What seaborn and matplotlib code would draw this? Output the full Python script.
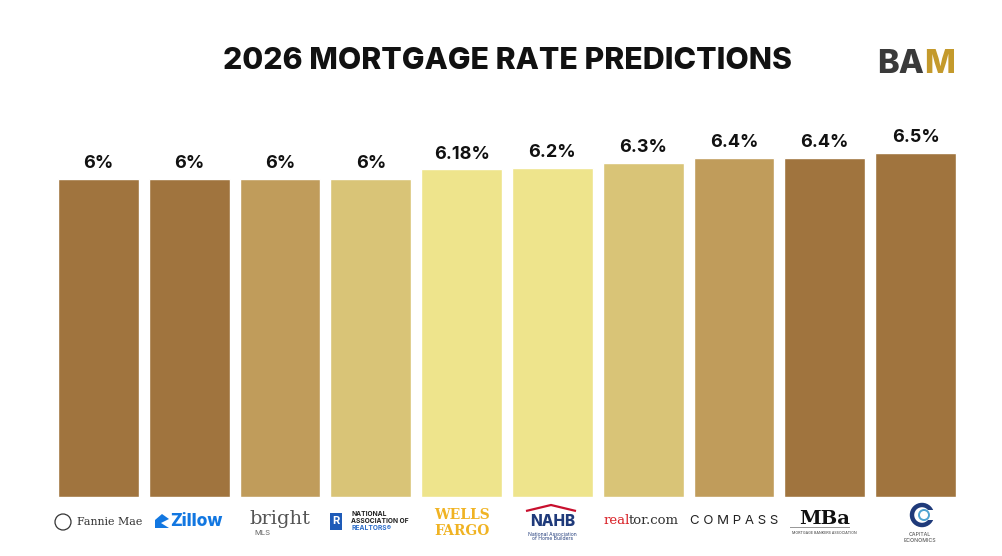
import matplotlib
matplotlib.use("Agg")
import matplotlib.pyplot as plt
import matplotlib.transforms as mtransforms
from matplotlib.patches import Ellipse, Rectangle, Polygon
import seaborn as sns
import pandas as pd

# data
lenders = ["Fannie Mae", "Zillow", "Bright MLS", "NAR", "Wells Fargo",
           "NAHB", "Realtor.com", "Compass", "MBA", "Capital Economics"]
rates = [6.0, 6.0, 6.0, 6.0, 6.18, 6.2, 6.3, 6.4, 6.4, 6.5]
rate_labels = ["6%", "6%", "6%", "6%", "6.18%", "6.2%", "6.3%", "6.4%", "6.4%", "6.5%"]
bar_colors = ["#A0743E", "#A0743E", "#C09C5B", "#D9C477", "#EEE48C",
              "#EEE48C", "#D9C477", "#C09C5B", "#A0743E", "#A0743E"]

df = pd.DataFrame({"lender": lenders, "rate": rates})

sns.set_theme(style="white")
plt.rcParams["font.family"] = ["Inter", "DejaVu Sans"]

W, H = 1002, 556
fig = plt.figure(figsize=(W / 100, H / 100), dpi=100)
fig.patch.set_facecolor("white")

def px(x, y):
    # pixel (from top-left) -> figure fraction
    return x / W, 1 - y / H

def circ(x, y, r, **kw):
    return Ellipse(px(x, y), 2 * r / W, 2 * r / H, transform=fig.transFigure, **kw)

left, right, bottom, top = 53, 961, 497, 100
ax = fig.add_axes([left / W, 1 - bottom / H, (right - left) / W, (bottom - top) / H])

sns.barplot(data=df, x="lender", y="rate", hue="lender", palette=bar_colors,
            legend=False, width=0.89, saturation=1, ax=ax)
ax.set_xlim(-0.5, 9.5)
ax.set_ylim(0, (bottom - top) / 53.0)
ax.axis("off")

for i, (r, lab) in enumerate(zip(rates, rate_labels)):
    ax.annotate(lab, (i, r), xytext=(0, 5), textcoords="offset points",
                ha="center", va="bottom", fontsize=13, fontweight="bold",
                color="#111111")

# title and brand mark
fig.text(*px(507, 61), "2026 MORTGAGE RATE PREDICTIONS", ha="center", va="center",
         fontsize=21.8, fontweight="heavy", color="#111111")
ba = fig.text(*px(877, 65), "BA", ha="left", va="center", fontsize=23.5,
              fontweight="heavy", color="#3A3A3A")
ax.annotate("M", xy=(1, 0.5), xycoords=ba, xytext=(0, 0), textcoords="offset points",
            ha="left", va="center", fontsize=23.5, fontweight="heavy",
            color="#C49A2C", annotation_clip=False)

# logos under the bars, drawn as text
trans = mtransforms.blended_transform_factory(ax.transData, fig.transFigure)
def ly(y):
    return 1 - y / H

serif = ["DejaVu Serif"]

# Fannie Mae
fig.add_artist(circ(63, 522, 8, fill=False, ec="#333333", lw=0.9))
fig.text(*px(77, 522), "Fannie Mae", ha="left", va="center",
         fontsize=7.9, family=serif, color="#333333")
# Zillow
fig.add_artist(Polygon([px(155, 528), px(155, 520), px(162, 514), px(169, 519),
                        px(161, 523), px(169, 528)], closed=True,
                       transform=fig.transFigure, fc="#1277E1", ec="none"))
fig.text(*px(170, 522), "Zillow", ha="left", va="center",
         fontsize=12.5, fontweight="heavy", color="#1277E1")
# bright MLS
ax.text(2.0, ly(519), "bright", transform=trans, ha="center", va="center",
        fontsize=14, family=serif, color="#555555")
ax.text(1.72, ly(533), "MLS", transform=trans, ha="left", va="center",
        fontsize=5.5, color="#666666")
# NAR
fig.add_artist(Rectangle(px(330, 530), 12 / W, 17 / H, transform=fig.transFigure,
                         fc="#1E5BB8", ec="none"))
fig.text(*px(336, 521.5), "R", ha="center", va="center", fontsize=8,
         fontweight="bold", color="white")
fig.text(*px(351, 514), "NATIONAL", ha="left", va="center", fontsize=4.8,
         fontweight="bold", color="#222222")
fig.text(*px(351, 521), "ASSOCIATION OF", ha="left", va="center", fontsize=4.8,
         fontweight="bold", color="#222222")
fig.text(*px(351, 528), "REALTORS®", ha="left", va="center", fontsize=4.8,
         fontweight="bold", color="#2F6FC9")
# Wells Fargo
ax.text(4.0, ly(515), "WELLS", transform=trans, ha="center", va="center",
        fontsize=10, fontweight="bold", family=serif, color="#F0B323")
ax.text(4.0, ly(531), "FARGO", transform=trans, ha="center", va="center",
        fontsize=10, fontweight="bold", family=serif, color="#F0B323")
# NAHB
fig.add_artist(Polygon([px(526, 511), px(551, 505), px(576, 511)], closed=False,
                       fill=False, transform=fig.transFigure, ec="#C8102E", lw=1.6))
ax.text(5.0, ly(522), "NAHB", transform=trans, ha="center", va="center",
        fontsize=11, fontweight="heavy", color="#1F3A7A")
ax.text(5.0, ly(534), "National Association", transform=trans, ha="center",
        va="center", fontsize=3.6, color="#1F3A7A")
ax.text(5.0, ly(539), "of Home Builders", transform=trans, ha="center",
        va="center", fontsize=3.6, color="#1F3A7A")
# realtor.com
real = fig.text(*px(604, 521), "real", ha="left", va="center", fontsize=9.5,
                family=serif, color="#D92228")
ax.annotate("tor.com", xy=(1, 0.5), xycoords=real, xytext=(-1, 0),
            textcoords="offset points", ha="left", va="center",
            fontsize=9.5, family=serif, color="#333333", annotation_clip=False)
# Compass
ax.text(7.0, ly(521), "C O M P A S S", transform=trans, ha="center", va="center",
        fontsize=9.5, color="#222222")
# MBA
ax.text(8.0, ly(519), "MBa", transform=trans, ha="center", va="center",
        fontsize=14, fontweight="bold", family=serif, color="#111111")
fig.add_artist(Rectangle(px(790, 528), 60 / W, 1 / H, transform=fig.transFigure,
                         fc="#999999", ec="none"))
ax.text(8.0, ly(533), "MORTGAGE BANKERS ASSOCIATION", transform=trans,
        ha="center", va="center", fontsize=2.6, color="#333333")
# Capital Economics
fig.add_artist(circ(922, 515, 10, fill=False, ec="#1F3A7A", lw=3.2))
fig.add_artist(Rectangle(px(926, 520), 14 / W, 10 / H, transform=fig.transFigure,
                         fc="white", ec="none"))
fig.add_artist(circ(924, 515, 5, fill=False, ec="#4FA3D1", lw=1.4))
ax.text(9.05, ly(535), "CAPITAL", transform=trans, ha="center", va="center",
        fontsize=3.8, color="#444444")
ax.text(9.05, ly(541), "ECONOMICS", transform=trans, ha="center", va="center",
        fontsize=3.8, color="#444444")

fig.savefig("out.png", dpi=100, facecolor="white")
